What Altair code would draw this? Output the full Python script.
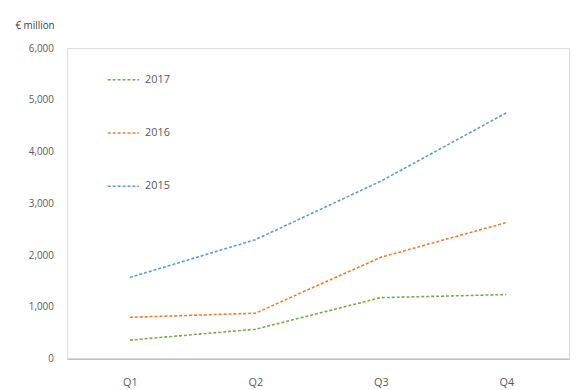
import altair as alt
import pandas as pd

quarters = ["Q1", "Q2", "Q3", "Q4"]
years = ["2017", "2016", "2015"]
values_2015 = [1570, 2300, 3430, 4750]
values_2016 = [800, 880, 1960, 2630]
values_2017 = [360, 570, 1180, 1240]
colors = ["#70AD47", "#ED7D31", "#5B9BD5"]

rows = []
for yr, vals in zip(["2015", "2016", "2017"], [values_2015, values_2016, values_2017]):
    for q, v in zip(quarters, vals):
        rows.append({"Quarter": q, "Year": yr, "Value": v})
df = pd.DataFrame(rows)

font = "Open Sans"
txt = "#595959"

chart = alt.Chart(df).mark_line(strokeDash=[3, 2], strokeWidth=1.6).encode(
    x=alt.X("Quarter:N", sort=quarters,
            scale=alt.Scale(type="point", padding=0.5),
            axis=alt.Axis(title=None, labelAngle=0, ticks=False, domainColor="#bfbfbf",
                          domainWidth=1.5, labelPadding=18, labelFontSize=11,
                          labelColor=txt, labelFont=font)),
    y=alt.Y("Value:Q", scale=alt.Scale(domain=[0, 6000], nice=False),
            axis=alt.Axis(title="€ million", titleAngle=0, titleAlign="left",
                          titleX=-53, titleY=-18, titleFontSize=10, titleFontWeight="normal",
                          titleColor="#404040", titleFont=font,
                          values=[0, 1000, 2000, 3000, 4000, 5000, 6000], format=",.0f",
                          grid=False, ticks=False, domain=False, labelPadding=14,
                          labelFontSize=10, labelColor=txt, labelFont=font)),
    color=alt.Color("Year:N", scale=alt.Scale(domain=years, range=colors),
                    legend=alt.Legend(title=None, orient="none", legendX=40, legendY=15,
                                      symbolType="stroke", symbolSize=1000,
                                      symbolStrokeWidth=1.6, symbolDash=[3, 2],
                                      rowPadding=32, labelFontSize=11, labelColor=txt,
                                      labelFont=font, labelOffset=5)),
).properties(
    width=509, height=315,
    autosize=alt.AutoSizeParams(type="none"),
    padding={"left": 60, "top": 38, "right": 5, "bottom": 29},
).configure_view(stroke="#d9d9d9", strokeWidth=1)

chart.save("out.html", embed_options={"renderer": "svg", "actions": False})
